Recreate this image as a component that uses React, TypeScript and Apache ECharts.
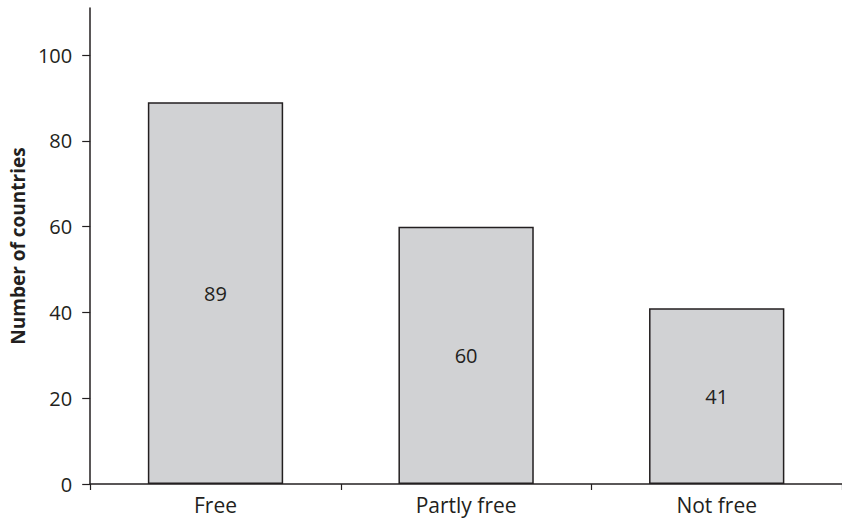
import React, { useEffect, useRef } from "react";
import * as echarts from "echarts";

const categories = ["Free", "Partly free", "Not free"];
const values = [89, 60, 41];
const yTicks = [0, 20, 40, 60, 80, 100];
const yTitle = "Number of countries";

const INK = "#231f20";
const FONT = "'Open Sans', 'Noto Sans', sans-serif";

export default function App() {
  const ref = useRef<HTMLDivElement>(null);
  useEffect(() => {
    if (!ref.current) return;
    const chart = echarts.init(ref.current, undefined, { renderer: "svg" });
    chart.setOption({
      animation: false,
      backgroundColor: "#ffffff",
      grid: { left: 90, right: 0, top: 8, bottom: 35, containLabel: false },
      xAxis: {
        type: "category",
        data: categories,
        boundaryGap: true,
        axisLine: { show: true, lineStyle: { color: INK, width: 1.5 } },
        axisTick: { show: true, length: 6, alignWithLabel: false, lineStyle: { color: INK, width: 1.2 } },
        axisLabel: { color: INK, fontSize: 21, fontFamily: FONT, margin: 10 },
        splitLine: { show: false },
      },
      yAxis: {
        type: "value",
        min: yTicks[0],
        max: 111,
        interval: 20,
        name: yTitle,
        nameLocation: "middle",
        nameGap: 62,
        nameRotate: 90,
        nameTextStyle: { color: INK, fontSize: 19, fontWeight: "bold", fontFamily: FONT },
        axisLine: { show: true, lineStyle: { color: INK, width: 1.5 } },
        axisTick: { show: true, length: 8, lineStyle: { color: INK, width: 1.2 } },
        axisLabel: {
          color: INK,
          fontSize: 20,
          fontFamily: FONT,
          margin: 18,
          showMaxLabel: false,
          formatter: (v: number) => (yTicks.includes(v) ? String(v) : ""),
        },
        splitLine: { show: false },
      },
      series: [
        {
          type: "bar",
          data: values,
          barWidth: "54%",
          itemStyle: { color: "#d1d2d4", borderColor: INK, borderWidth: 1.5 },
          label: {
            show: true,
            position: "inside",
            color: INK,
            fontSize: 20,
            fontFamily: FONT,
          },
        },
      ],
    });
    return () => chart.dispose();
  }, []);
  return <div ref={ref} style={{ width: 842, height: 519, position: "absolute", left: 0, top: 0 }} />;
}
